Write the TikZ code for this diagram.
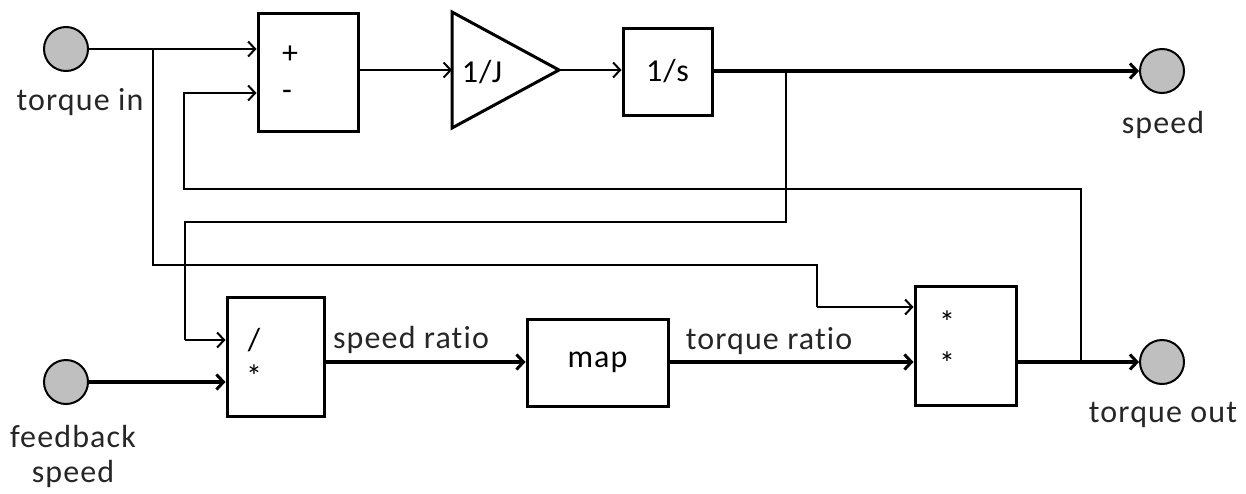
\documentclass[tikz,border=0pt]{standalone}
\usepackage{fontspec}
\setmainfont[Ligatures=NoCommon,LetterSpace=3.5]{Carlito}
\usetikzlibrary{arrows.meta}
\begin{document}
\begin{tikzpicture}[x=1pt,y=-1pt,
  every node/.style={font=\fontsize{32}{36}\selectfont, inner sep=0pt},
  blk/.style={draw, line width=3pt, rectangle},
  port/.style={draw, line width=2pt, circle, fill=black!25, minimum size=44pt},
  sig/.style={line width=1.6pt},
  bsig/.style={line width=3.4pt},
  arr/.style={-{Straight Barb[length=7pt,width=15pt,line width=2pt]}},
  barr/.style={-{Straight Barb[length=7pt,width=15pt,line width=3pt]}},
  lbl/.style={anchor=center, text=black!85}]
\useasboundingbox (0,0) rectangle (1246,493);
% ports
\node[port] (tin) at (66,49) {};
\node[lbl] at (80,102) {torque in};
\node[port] (fbs) at (66,382) {};
\node[lbl] at (73,436) {feedback};
\node[lbl] at (73,474) {speed};
\node[port] (spd) at (1162,71) {};
\node[lbl] at (1163,125) {speed};
\node[port] (tout) at (1162,362) {};
\node[lbl] at (1163,415) {torque out};
% blocks
\node[blk, minimum width=100pt, minimum height=118pt] (sum) at (308,72) {};
\node at (290,55) {+};
\node at (287,95) {-};
\draw[line width=3pt, line join=miter] (452,12) -- (559,70) -- (452,128) -- cycle;
\coordinate (jin) at (452,70);
\coordinate (jout) at (559,70);
\node (jtxt) at (482,72) {1/J};
\node[blk, minimum width=89pt, minimum height=87pt] (ints) at (667.5,71.5) {1/s};
\node[blk, minimum width=97pt, minimum height=119pt] (div) at (275.5,356.5) {};
\node at (254,340) {/};
\node at (254,376) {*};
\node[blk, minimum width=141pt, minimum height=87pt] (map) at (597.5,362.5) {map};
\node[blk, minimum width=101pt, minimum height=119pt] (mul) at (965.5,345.5) {};
\node at (947,322) {*};
\node at (947,363) {*};
% labels
\node[lbl] at (411,340) {speed ratio};
\node[lbl] at (769,341) {torque ratio};
% junction coordinates
\coordinate (j1) at (153,49);
\coordinate (j2) at (786,71);
\coordinate (j3) at (1081,362);
% connectors
\draw[sig, arr] (tin.east) -- (sum.west |- 0,49);
\draw[sig, arr] (j3) -- (1081,189) -- (184,189) -- (184,93) -- (sum.west |- 0,93);
\draw[sig, arr] (sum.east |- 0,70) -- (jin);
\draw[sig, arr] (jout) -- (ints.west |- jout);
\draw[bsig, barr] (ints.east |- j2) -- (spd.west);
\draw[sig] (j2) -- (786,222) -- (185,222) -- (185,340);
\draw[sig, arr] (185,340) -- (div.west |- 0,340);
\draw[sig] (j1) -- (153,265) -- (817,265) -- (817,307);
\draw[sig, arr] (817,307) -- (mul.west |- 0,307);
\draw[bsig, barr] (fbs.east) -- (div.west |- fbs);
\draw[bsig, barr] (div.east |- 0,362) -- (map.west |- 0,362);
\draw[bsig, barr] (map.east |- 0,362) -- (mul.west |- 0,362);
\draw[bsig, barr] (mul.east |- 0,362) -- (tout.west);
\end{tikzpicture}
\end{document}
